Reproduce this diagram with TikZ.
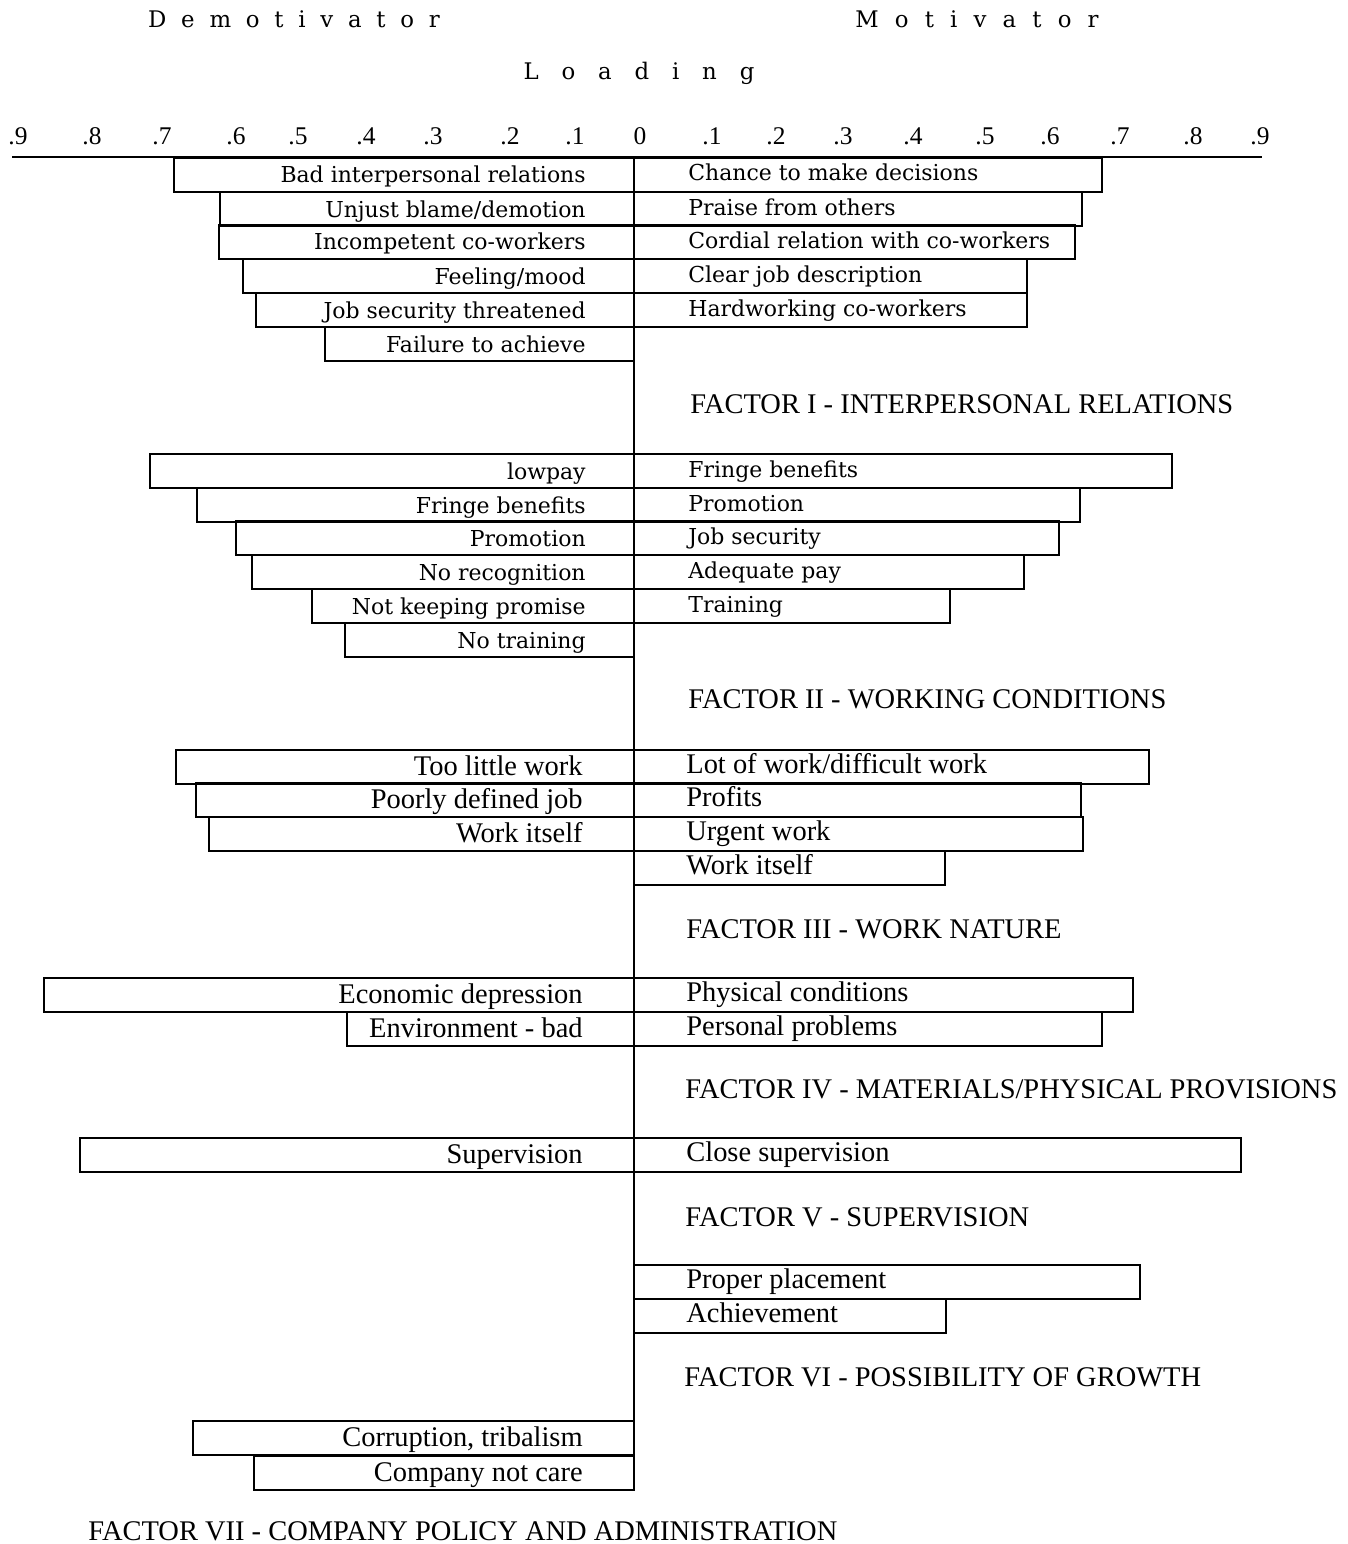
\documentclass[tikz,border=0pt]{standalone}
\usepackage{fontspec}
\setmainfont{Liberation Serif}
\newfontfamily\barfont{DejaVu Serif}

\begin{document}
\begin{tikzpicture}[x=0.02cm, y=-0.02cm,
	bar/.style={draw, line width=1.3pt},
	wide/.style={font=\barfont\fontsize{12.5}{14}\selectfont, inner sep=0pt},
	narrow/.style={font=\fontsize{16.2}{18}\selectfont, inner sep=0pt},
	head/.style={font=\barfont\fontsize{13}{15}\selectfont, anchor=base, inner sep=0pt},
	factor/.style={font=\fontsize{16.2}{18}\selectfont, anchor=base west, inner sep=0pt},
	tick/.style={font=\fontsize{14.5}{16}\selectfont, anchor=base, inner sep=0pt}]
	\useasboundingbox (0,0) rectangle (1347,1544);
	\node[head] (demot) at (294,28) {\spaceskip=8.4pt D e m o t i v a t o r};
	\node[head] (motiv) at (977,28) {\spaceskip=9.2pt M o t i v a t o r};
	\node[head] (load) at (639,80) {\spaceskip=13pt L o a d i n g};
	\foreach \x/\v in {18/.9, 92/.8, 162/.7, 236/.6, 298/.5, 366/.4, 433/.3, 510/.2, 575/.1, 640/0, 712/.1, 776/.2, 843/.3, 913/.4, 985/.5, 1050/.6, 1120/.7, 1193/.8, 1260/.9} {
		\node[tick] (t\x) at (\x,145) {\v};
	}
	\coordinate (axl) at (12,157);
	\coordinate (axr) at (1262,157);
	\coordinate (ctop) at (634,157);
	\coordinate (cbot) at (634,1491);
	\foreach \t/\x/\txt in {158/174/{Bad interpersonal relations}, 192/220/{Unjust blame/demotion}, 225/219/{Incompetent co-workers}, 259/243/{Feeling/mood}, 293/256/{Job security threatened}, 327/325/{Failure to achieve}, 454/150/{lowpay}, 488/197/{Fringe benefits}, 521/236/{Promotion}, 555/252/{No recognition}, 589/312/{Not keeping promise}, 623/345/{No training}} {
		\draw[bar] (\x,\t) rectangle (634,\t+34);
		\node[wide, anchor=base east] (d\t) at (586,\t+25) {\txt};
	}
	\foreach \t/\x/\txt in {158/1102/{Chance to make decisions}, 192/1082/{Praise from others}, 225/1075/{Cordial relation with co-workers}, 259/1027/{Clear job description}, 293/1027/{Hardworking co-workers}, 454/1172/{Fringe benefits}, 488/1080/{Promotion}, 521/1059/{Job security}, 555/1024/{Adequate pay}, 589/950/{Training}} {
		\draw[bar] (634,\t) rectangle (\x,\t+34);
		\node[wide, anchor=base west] (m\t) at (688,\t+23) {\txt};
	}
	\foreach \t/\x/\txt in {750/176/{Too little work}, 783/196/{Poorly defined job}, 817/209/{Work itself}, 978/44/{Economic depression}, 1012/347/{Environment - bad}, 1138/80/{Supervision}, 1421/193/{Corruption, tribalism}, 1456/254/{Company not care}} {
		\draw[bar] (\x,\t) rectangle (634,\t+34);
		\node[narrow, anchor=base east] (d\t) at (583,\t+25) {\txt};
	}
	\foreach \t/\x/\txt in {750/1149/{Lot of work/difficult work}, 783/1081/{Profits}, 817/1083/{Urgent work}, 851/945/{Work itself}, 978/1133/{Physical conditions}, 1012/1102/{Personal problems}, 1138/1241/{Close supervision}, 1265/1140/{Proper placement}, 1299/946/{Achievement}} {
		\draw[bar] (634,\t) rectangle (\x,\t+34);
		\node[narrow, anchor=base west] (m\t) at (686,\t+23) {\txt};
	}
	\draw[bar] (axl) -- (axr);
	\draw[bar] (ctop) -- (cbot);
	\node[factor] (f1) at (690,413) {FACTOR I - INTERPERSONAL RELATIONS};
	\node[factor] (f2) at (688,708) {FACTOR II - WORKING CONDITIONS};
	\node[factor] (f3) at (686,938) {FACTOR III - WORK NATURE};
	\node[factor] (f4) at (685,1098) {FACTOR IV - MATERIALS/PHYSICAL PROVISIONS};
	\node[factor] (f5) at (685,1226) {FACTOR V - SUPERVISION};
	\node[factor] (f6) at (684,1386) {FACTOR VI - POSSIBILITY OF GROWTH};
	\node[factor] (f7) at (88,1540) {FACTOR VII - COMPANY POLICY AND ADMINISTRATION};
\end{tikzpicture}
\end{document}
